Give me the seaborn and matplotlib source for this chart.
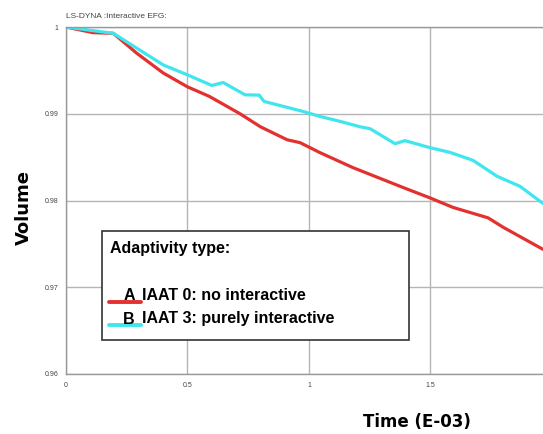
import matplotlib
matplotlib.use("Agg")
import matplotlib.pyplot as plt
from matplotlib.lines import Line2D
from matplotlib.patches import Rectangle
from matplotlib.ticker import AutoMinorLocator
import numpy as np
import pandas as pd
import seaborn as sns

# ── Curves ──────────────────────────────────────────────────────────────────
time_a = [0.0, 0.11, 0.195, 0.29, 0.40, 0.50, 0.59, 0.716, 0.80, 0.91, 0.963,
          1.045, 1.18, 1.387, 1.498, 1.593, 1.737, 1.80, 1.963]
vol_a = [1.0, 0.99935, 0.99927, 0.9970, 0.9947, 0.9931, 0.9920, 0.9900, 0.9885,
         0.9870, 0.98667, 0.98552, 0.9838, 0.9815, 0.9803, 0.9792, 0.9780,
         0.9769, 0.97437]

time_b = [0.0, 0.195, 0.29, 0.40, 0.50, 0.60, 0.647, 0.737, 0.795, 0.815, 0.975,
          1.045, 1.128, 1.21, 1.251, 1.354, 1.395, 1.498, 1.58, 1.675, 1.774,
          1.868, 1.963]
vol_b = [1.0, 0.99927, 0.99758, 0.99563, 0.99448, 0.99326, 0.9936, 0.99218,
         0.99215, 0.99142, 0.99027, 0.98969, 0.98912, 0.9885, 0.98828, 0.98655,
         0.98690, 0.98609, 0.98555, 0.98463, 0.98279, 0.98164, 0.97966]

SERIES = ["IAAT 0: no interactive", "IAAT 3: purely interactive"]
LETTERS = ["A", "B"]
COLORS = ["#e3312f", "#3fe6ee"]

XTICKS = [0, 0.5, 1, 1.5]
XTICK_LABELS = ["0", "0.5", "1", "1.5"]
YTICKS = [0.96, 0.97, 0.98, 0.99, 1.0]
YTICK_LABELS = ["0.96", "0.97", "0.98", "0.99", "1"]

df = pd.concat([
    pd.DataFrame({"time": time_a, "volume": vol_a, "series": SERIES[0]}),
    pd.DataFrame({"time": time_b, "volume": vol_b, "series": SERIES[1]}),
], ignore_index=True)

sns.set_style("white")
plt.rcParams["font.family"] = ["Liberation Sans", "DejaVu Sans"]
plt.rcParams["text.color"] = "black"
plt.rcParams["axes.labelcolor"] = "black"

fig = plt.figure(figsize=(5.43, 4.34), dpi=100)
ax = fig.add_axes([66 / 543, 1 - 374 / 434, 1 - 66 / 543, 347 / 434])

sns.lineplot(data=df, x="time", y="volume", hue="series", palette=COLORS,
             linewidth=2.3, ax=ax, legend=False, sort=False, estimator=None)

ax.set_xlim(0, 1.963)
ax.set_ylim(0.96, 1.0)
ax.set_xticks(XTICKS)
ax.set_xticklabels(XTICK_LABELS)
ax.set_yticks(YTICKS)
ax.set_yticklabels(YTICK_LABELS)
ax.xaxis.set_minor_locator(AutoMinorLocator(2))
ax.yaxis.set_minor_locator(AutoMinorLocator(2))
ax.tick_params(which="major", direction="out", length=3.5, width=0.8,
               color="#888888", labelsize=5, labelcolor="#444444", pad=2)
ax.tick_params(which="minor", direction="in", length=3, width=0.8, color="#888888")
ax.grid(True, which="major", color="#b5b5b5", linewidth=1.0)
ax.set_axisbelow(True)

for side in ["left", "bottom", "top"]:
    ax.spines[side].set_color("#999999")
    ax.spines[side].set_linewidth(1.0)
ax.spines["right"].set_visible(False)

ax.set_xlabel("Time (E-03)", fontsize=12, fontweight="heavy",
              family="DejaVu Sans", color="black")
ax.xaxis.set_label_coords((417 - 66) / 477, (374 - 422) / 347)
ax.xaxis.label.set_va("center")
ax.set_ylabel("Volume", fontsize=13, fontweight="bold", family="DejaVu Sans",
              color="black")
ax.yaxis.set_label_coords((24 - 66) / 477, (374 - 207) / 347)
ax.yaxis.label.set_va("center")

fig.text(66 / 543, 1 - 17 / 434, "LS-DYNA :Interactive EFG:", fontsize=6,
         color="#444444", va="center", ha="left")

# ── Hand-drawn style legend box ─────────────────────────────────────────────
fig.patches.append(Rectangle((102 / 543, 1 - 340 / 434), 307 / 543, 109 / 434,
                             transform=fig.transFigure, facecolor="white",
                             edgecolor="#333333", linewidth=1.2, zorder=5))
fig.text(110 / 543, 1 - 248 / 434, "Adaptivity type:", fontsize=11.5,
         fontweight="bold", va="center", ha="left", color="black", zorder=6)
for i, (letter, label, color) in enumerate(zip(LETTERS, SERIES, COLORS)):
    yc = 296 + 23 * i
    fig.lines.append(Line2D([109 / 543, 141 / 543],
                            [1 - (yc + 6) / 434, 1 - (yc + 6) / 434],
                            transform=fig.transFigure, color=color,
                            linewidth=2.8, zorder=6))
    fig.text(129 / 543, 1 - yc / 434, letter, fontsize=11.5, fontweight="bold",
             va="center", ha="center", color="black", zorder=7)
    fig.text(142 / 543, 1 - yc / 434, label, fontsize=11.5, fontweight="bold",
             va="center", ha="left", color="black", zorder=7)

fig.savefig("out.png", dpi=100)
plt.close(fig)
